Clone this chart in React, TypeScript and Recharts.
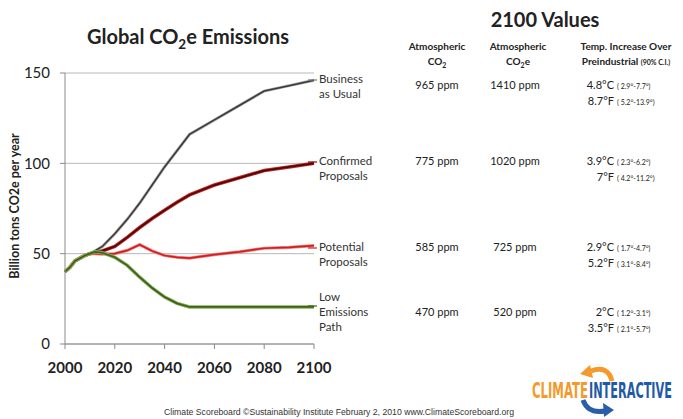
import { LineChart, Line, XAxis, YAxis, CartesianGrid } from 'recharts';

const years = [2000, 2002, 2004, 2006, 2008, 2010, 2012, 2015, 2020, 2025, 2030, 2035, 2040, 2045, 2050, 2060, 2070, 2080, 2090, 2100];
const businessAsUsual = [40, 42.5, 46, 47.5, 49, 50, 51.5, 54, 61, 69, 78, 88, 98, 107, 116, 124, 132, 140, 143, 146];
const confirmedProposals = [40, 42.5, 46, 47.5, 49, 50, 50.5, 51.5, 54, 59, 64.5, 69.5, 74, 78.5, 82.5, 88, 92, 96, 98, 100];
const potentialProposals = [40, 42.5, 46, 47.5, 49, 50, 50, 49.8, 50, 51.8, 55, 51.5, 49, 48, 47.5, 49.5, 51, 53, 53.5, 54.5];
const lowEmissionsPath = [40, 42.5, 46, 47.5, 49, 50, 51, 50.5, 48, 43.5, 37, 31, 26, 22.5, 20.5, 20.5, 20.5, 20.5, 20.5, 20.5];

const yTicks = [0, 50, 100, 150];
const xTicks = [2000, 2020, 2040, 2060, 2080, 2100];

const seriesLabels = [
  ['Business', 'as Usual'],
  ['Confirmed', 'Proposals'],
  ['Potential', 'Proposals'],
  ['Low', 'Emissions', 'Path'],
];

const co2Values = ['965 ppm', '775 ppm', '585 ppm', '470 ppm'];
const co2eValues = ['1410 ppm', '1020 ppm', '725 ppm', '520 ppm'];
const tempC = ['4.8°C', '3.9°C', '2.9°C', '2°C'];
const tempCRange = ['( 2.9°-7.7°)', '( 2.3°-6.2°)', '( 1.7°-4.7°)', '( 1.2°-3.1°)'];
const tempF = ['8.7°F', '7°F', '5.2°F', '3.5°F'];
const tempFRange = ['( 5.2°-13.9°)', '( 4.2°-11.2°)', '( 3.1°-8.4°)', '( 2.1°-5.7°)'];

const data = years.map((year, i) => ({
  year,
  bau: businessAsUsual[i],
  confirmed: confirmedProposals[i],
  potential: potentialProposals[i],
  low: lowEmissionsPath[i],
}));

const FONT = 'Lato, "Open Sans", sans-serif';
const LOGO_FONT = '"Liberation Sans Narrow", "DejaVu Sans Condensed", sans-serif';
const TEXT = '#222';

// layout of the annotation overlay
const labelTops = [79, 161, 247, 297];
const rowTops = [85, 161, 247, 312];

export default function App() {
  return (
    <div style={{ position: 'absolute', left: 0, top: 0, width: 683, height: 419, background: '#fff', fontFamily: FONT }}>
      <LineChart width={683} height={419} data={data} margin={{ top: 73, right: 369, bottom: 45, left: 0 }}>
        <CartesianGrid vertical={false} stroke="#b8b8b8" />
        <XAxis
          dataKey="year"
          type="number"
          domain={[2000, 2100]}
          ticks={xTicks}
          height={30}
          tickSize={5}
          tickMargin={13}
          stroke="#8a8a8a"
          tick={{ fontSize: 15, fontWeight: 700, fill: TEXT, fontFamily: FONT }}
        />
        <YAxis
          domain={[0, 150]}
          ticks={yTicks}
          width={65}
          tickSize={5}
          tickMargin={10}
          stroke="#8a8a8a"
          tick={{ fontSize: 15, fill: TEXT, fontFamily: FONT }}
        />
        <Line dataKey="bau" type="linear" dot={false} stroke="#a9a9a9" strokeWidth={3} isAnimationActive={false} />
        <Line dataKey="bau" type="linear" dot={false} stroke="#3a3a3a" strokeWidth={1.5} isAnimationActive={false} />
        <Line dataKey="confirmed" type="linear" dot={false} stroke="#c42a2a" strokeWidth={3.6} isAnimationActive={false} />
        <Line dataKey="confirmed" type="linear" dot={false} stroke="#4e0808" strokeWidth={1.8} isAnimationActive={false} />
        <Line dataKey="potential" type="linear" dot={false} stroke="#ee8a8a" strokeWidth={3.2} isAnimationActive={false} />
        <Line dataKey="potential" type="linear" dot={false} stroke="#d21e1e" strokeWidth={1.7} isAnimationActive={false} />
        <Line dataKey="low" type="linear" dot={false} stroke="#86ad5c" strokeWidth={3.4} isAnimationActive={false} />
        <Line dataKey="low" type="linear" dot={false} stroke="#3b6418" strokeWidth={1.7} isAnimationActive={false} />
      </LineChart>

      <svg width={683} height={419} style={{ position: 'absolute', left: 0, top: 0, pointerEvents: 'none' }} fontFamily={FONT}>
        <text x={188} y={44} textAnchor="middle" fontSize={20} fontWeight={700} fill={TEXT}>
          Global CO<tspan fontSize={13.5} dy={5}>2</tspan><tspan dy={-5}>e Emissions</tspan>
        </text>
        <text transform="translate(19,206) rotate(-90)" textAnchor="middle" fontSize={12.5} fontWeight={700} fill={TEXT}>
          Billion tons CO2e per year
        </text>

        {/* leader lines and series labels */}
        {[80, 162, 248, 306].map((y, i) => (
          <line key={i} x1={308} x2={317} y1={y} y2={y} stroke={['#777', '#7a1010', '#d21e1e', '#3b6418'][i]} strokeWidth={1.2} />
        ))}
        {seriesLabels.map((lines, i) =>
          lines.map((t, j) => (
            <text key={`${i}-${j}`} x={319} y={labelTops[i] + j * 15 + 4} fontSize={11.5} fill="#333">
              {t}
            </text>
          ))
        )}

        {/* 2100 table */}
        <text x={545} y={27} textAnchor="middle" fontSize={20} fontWeight={700} fill={TEXT}>2100 Values</text>
        <text x={437} y={50} textAnchor="middle" fontSize={10} fontWeight={700} fill={TEXT}>Atmospheric</text>
        <text x={437} y={65} textAnchor="middle" fontSize={10} fontWeight={700} fill={TEXT}>
          CO<tspan fontSize={7} dy={3}>2</tspan>
        </text>
        <text x={518} y={50} textAnchor="middle" fontSize={10} fontWeight={700} fill={TEXT}>Atmospheric</text>
        <text x={518} y={65} textAnchor="middle" fontSize={10} fontWeight={700} fill={TEXT}>
          CO<tspan fontSize={7} dy={3}>2</tspan><tspan dy={-3}>e</tspan>
        </text>
        <text x={626} y={50} textAnchor="middle" fontSize={10} fontWeight={700} fill={TEXT}>Temp. Increase Over</text>
        <text x={626} y={65} textAnchor="middle" fontSize={10} fontWeight={700} fill={TEXT}>
          Preindustrial <tspan fontSize={7}>(90% C.I.)</tspan>
        </text>

        {co2Values.map((v, i) => (
          <text key={`c${i}`} x={437} y={rowTops[i] + 4} textAnchor="middle" fontSize={11} fill={TEXT}>{v}</text>
        ))}
        {co2eValues.map((v, i) => (
          <text key={`e${i}`} x={515} y={rowTops[i] + 4} textAnchor="middle" fontSize={11} fill={TEXT}>{v}</text>
        ))}
        {tempC.map((v, i) => (
          <g key={`t${i}`}>
            <text x={614} y={rowTops[i] + 4} textAnchor="end" fontSize={11} fill={TEXT}>{v}</text>
            <text x={617} y={rowTops[i] + 4} fontSize={7} fill={TEXT}>{tempCRange[i]}</text>
            <text x={614} y={rowTops[i] + 20} textAnchor="end" fontSize={11} fill={TEXT}>{tempF[i]}</text>
            <text x={617} y={rowTops[i] + 20} fontSize={7} fill={TEXT}>{tempFRange[i]}</text>
          </g>
        ))}

        {/* logo */}
        <path d="M 612 381 Q 608 365 591 371" fill="none" stroke="#f39a2b" strokeWidth={5} />
        <polygon points="580,374 590,365 593,378" fill="#f39a2b" />
        <path d="M 583 400 Q 588 414 605 411" fill="none" stroke="#2a5fa8" strokeWidth={5} />
        <polygon points="614,410 603,403 604,417" fill="#2a5fa8" />
        <g transform="translate(0,398) scale(1,1.85)">
          <text x={532} y={0} fontSize={11} fontWeight={700} fill="#f39a2b" fontFamily={LOGO_FONT} textLength={56} lengthAdjust="spacingAndGlyphs">CLIMATE</text>
          <text x={589} y={0} fontSize={11} fontWeight={700} fill="#1f5aa6" fontFamily={LOGO_FONT} textLength={83} lengthAdjust="spacingAndGlyphs">INTERACTIVE</text>
        </g>

        <text x={339} y={415} fontSize={8.3} textAnchor="middle" fill="#333" fontFamily='"Liberation Sans", Arial, sans-serif' textLength={350} lengthAdjust="spacingAndGlyphs">
          Climate Scoreboard ©Sustainability Institute February 2, 2010 www.ClimateScoreboard.org
        </text>
      </svg>
    </div>
  );
}
